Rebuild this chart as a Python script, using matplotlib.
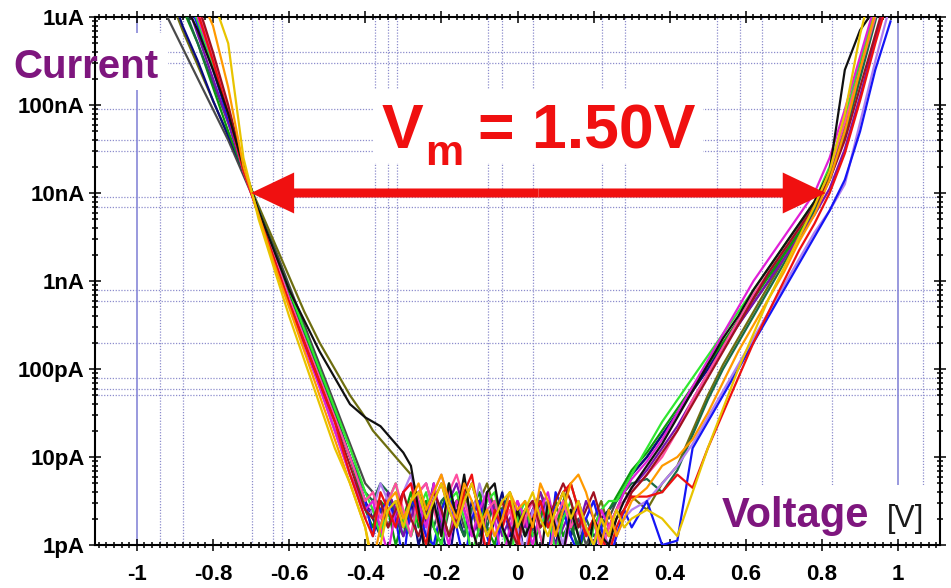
import numpy as np
import matplotlib
matplotlib.use('Agg')
import matplotlib.pyplot as plt
from matplotlib.patches import Rectangle
from matplotlib.ticker import FixedLocator, MultipleLocator, LogLocator, NullFormatter

plt.rcParams['font.family'] = ['Liberation Sans', 'DejaVu Sans']

# ---------------- data ----------------
voltage = [-0.96, -0.92, -0.88, -0.84, -0.80, -0.76, -0.72, -0.68, -0.64, -0.60,
           -0.56, -0.52, -0.48, -0.44, -0.40,
           -0.38, -0.36, -0.34, -0.32, -0.30, -0.28, -0.26, -0.24, -0.22, -0.20,
           -0.18, -0.16, -0.14, -0.12, -0.10, -0.08, -0.06, -0.04, -0.02, 0.00,
           0.02, 0.04, 0.06, 0.08, 0.10, 0.12, 0.14, 0.16, 0.18, 0.20,
           0.22, 0.24, 0.26, 0.28, 0.30,
           0.34, 0.38, 0.42, 0.46, 0.50, 0.54, 0.58, 0.62, 0.66, 0.70,
           0.74, 0.78, 0.82, 0.86, 0.90, 0.94, 0.98]

# log10(current / A) for each sweep
log_i_black = [-4.8, -5.3, -5.8, -6.15, -6.6, -7.1, -7.7, -8.2, -8.65, -9.1, -9.45, -9.8, -10.1, -10.4, -10.55,
               -10.6, -10.65, -10.75, -10.85, -10.95, -11.1, -11.6, -12.2, -11.5, -11.9,
               -11.3, -11.7, -11.2, -11.8, -12.1, -11.4, -11.3, -11.8, -12.0, -11.6,
               -11.9, -11.7, -12.2, -11.5, -11.8, -12.1, -11.6, -11.9, -12.2, -11.7,
               -11.9, -12.0, -11.7, -11.5, -11.35,
               -11.1, -10.85, -10.55, -10.25, -9.95, -9.65, -9.4, -9.1, -8.85, -8.6, -8.35, -8.1, -7.75, -6.6, -6.15, -5.9, -5.5]
log_i_blue = [-4.6, -5.1, -5.6, -6.1, -6.6, -7.15, -7.7, -8.2, -8.7, -9.2, -9.65, -10.1, -10.55, -11.0, -11.5,
              -11.9, -11.6, -11.5, -11.7, -12.2, -11.5, -11.6, -11.9, -12.0, -11.6,
              -11.4, -11.8, -12.2, -11.7, -11.5, -11.9, -12.2, -11.6, -11.8, -12.0,
              -11.6, -11.5, -11.9, -12.2, -11.4, -11.6, -11.9, -12.1, -11.7, -11.5,
              -11.8, -12.2, -11.9, -11.6, -11.8,
              -11.5, -12.0, -11.95, -10.9, -10.6, -10.3, -10.0, -9.7, -9.4, -9.1, -8.8, -8.5, -8.2, -7.85, -7.3, -6.6, -6.05]
log_i_navy = [-5.2, -5.6, -6.1, -6.5, -6.95, -7.35, -7.75, -8.2, -8.65, -9.1, -9.55, -10.0, -10.5, -11.0, -11.5,
              -11.7, -11.9, -11.4, -11.6, -11.8, -11.5, -12.0, -11.7, -11.3, -11.8,
              -12.2, -11.6, -11.9, -11.5, -11.8, -12.1, -11.7, -11.4, -11.9, -11.6,
              -12.2, -11.8, -11.5, -11.7, -12.0, -11.6, -11.9, -11.5, -11.8, -12.1,
              -11.7, -11.6, -11.5, -11.35, -11.2,
              -11.0, -10.75, -10.5, -10.25, -10.0, -9.72, -9.45, -9.18, -8.92, -8.66, -8.4, -8.12, -7.75, -7.2, -6.55, -5.95, -5.35]
log_i_green = [-4.9, -5.4, -5.9, -6.3, -6.8, -7.3, -7.75, -8.2, -8.7, -9.15, -9.6, -10.05, -10.5, -11.0, -11.6,
               -11.8, -11.5, -11.6, -12.0, -11.7, -11.4, -11.8, -11.5, -12.2, -11.6,
               -11.3, -11.7, -11.9, -11.6, -11.4, -11.8, -12.0, -11.6, -11.5, -11.9,
               -11.7, -12.2, -11.6, -11.8, -11.5, -11.9, -11.7, -12.1, -11.8, -12.0,
               -11.8, -11.6, -11.45, -11.3, -11.15,
               -10.95, -10.7, -10.45, -10.2, -9.95, -9.7, -9.45, -9.2, -8.95, -8.7, -8.45, -8.2, -7.85, -7.3, -6.6, -5.9, -5.3]
log_i_lime = [-4.6, -5.1, -5.6, -6.05, -6.55, -7.1, -7.7, -8.2, -8.65, -9.1, -9.55, -10.0, -10.45, -10.9, -11.4,
              -11.6, -11.9, -11.5, -11.3, -11.7, -11.9, -11.6, -11.4, -11.8, -12.0,
              -11.5, -11.4, -11.7, -12.1, -11.8, -11.5, -11.4, -11.8, -12.2, -11.7,
              -11.5, -11.9, -11.8, -11.6, -12.1, -11.7, -11.5, -11.9, -12.2, -11.8,
              -11.6, -11.5, -11.5, -11.35, -11.2,
              -10.9, -10.6, -10.35, -10.1, -9.85, -9.6, -9.35, -9.1, -8.85, -8.6, -8.35, -8.1, -7.7, -7.15, -6.5, -5.9, -5.3]
log_i_red = [-4.4, -4.9, -5.4, -5.95, -6.5, -7.1, -7.75, -8.25, -8.75, -9.25, -9.7, -10.15, -10.6, -11.2, -11.7,
             -11.9, -11.4, -11.6, -11.8, -11.4, -11.3, -11.7, -12.0, -11.5, -11.3,
             -11.6, -11.8, -11.4, -11.2, -11.7, -12.1, -11.6, -11.8, -11.5, -11.9,
             -12.2, -11.7, -11.5, -11.8, -11.6, -11.4, -11.3, -11.6, -11.9, -11.7,
             -11.9, -12.1, -11.8, -11.6, -11.45,
             -11.45, -11.4, -11.2, -11.35, -10.9, -10.5, -10.1, -9.7, -9.35, -9.0, -8.65, -8.35, -8.0, -7.55, -6.95, -6.3, -5.7]
log_i_magenta = [-4.5, -5.0, -5.5, -6.0, -6.5, -7.1, -7.75, -8.25, -8.75, -9.25, -9.75, -10.2, -10.7, -11.2, -11.6,
                 -11.5, -11.8, -12.1, -11.6, -11.4, -11.3, -11.5, -11.8, -11.3, -11.7,
                 -12.0, -11.5, -11.6, -11.9, -11.6, -11.4, -11.7, -12.2, -11.8, -11.5,
                 -11.7, -12.0, -11.6, -11.4, -11.8, -12.1, -11.7, -11.5, -11.8, -12.0,
                 -11.6, -11.8, -11.6, -11.4, -11.25,
                 -11.05, -10.8, -10.5, -10.2, -9.9, -9.6, -9.3, -9.0, -8.75, -8.5, -8.25, -8.0, -7.6, -7.05, -6.45, -5.85, -5.3]
log_i_pink = [-4.4, -4.9, -5.4, -5.9, -6.45, -7.05, -7.7, -8.25, -8.7, -9.2, -9.65, -10.1, -10.55, -11.0, -11.5,
              -11.4, -11.7, -11.5, -11.3, -11.6, -11.9, -11.4, -11.3, -11.6, -11.9,
              -11.4, -11.2, -11.5, -11.8, -12.1, -11.6, -11.5, -11.8, -11.6, -12.0,
              -11.7, -11.5, -11.9, -12.2, -11.7, -11.5, -11.8, -11.6, -11.9, -11.7,
              -12.1, -11.8, -11.6, -11.5, -11.4,
              -11.2, -11.0, -10.7, -10.35, -10.05, -9.75, -9.45, -9.15, -8.9, -8.65, -8.4, -8.15, -7.75, -7.2, -6.6, -6.0, -5.4]
log_i_orange = [-4.2, -4.7, -5.2, -5.7, -6.1, -6.8, -7.7, -8.25, -8.8, -9.3, -9.8, -10.3, -10.8, -11.3, -11.8,
                -12.2, -11.8, -11.5, -11.4, -11.7, -11.5, -11.3, -11.6, -11.4, -11.2,
                -11.5, -11.7, -11.3, -11.5, -11.8, -11.6, -11.9, -11.7, -11.4, -11.6,
                -11.5, -11.8, -11.3, -11.5, -11.9, -11.6, -11.3, -11.2, -11.4, -11.7,
                -12.0, -11.6, -11.9, -11.7, -11.5,
                -11.35, -11.1, -11.0, -10.8, -10.5, -10.15, -9.8, -9.5, -9.2, -8.9, -8.55, -8.25, -7.85, -7.3, -6.6, -5.95, -5.3]
log_i_gold = [-3.6, -4.2, -4.8, -5.3, -5.8, -6.3, -7.6, -8.3, -8.85, -9.4, -9.9, -10.4, -10.9, -11.3, -11.8,
              -12.3, -12.0, -11.6, -11.5, -11.8, -11.5, -11.4, -11.7, -11.5, -11.3,
              -11.6, -11.8, -11.5, -11.3, -11.6, -11.9, -11.7, -11.5, -11.4, -11.8,
              -11.6, -11.4, -11.7, -11.9, -11.6, -11.4, -11.7, -11.5, -11.8, -12.0,
              -11.7, -11.9, -11.6, -11.8, -11.7,
              -11.6, -11.7, -11.9, -11.4, -10.9, -10.45, -10.0, -9.6, -9.2, -8.85, -8.5, -8.15, -7.75, -7.1, -6.2, -5.5, -4.8]
log_i_violet = [-4.5, -5.0, -5.5, -6.0, -6.55, -7.1, -7.75, -8.2, -8.7, -9.2, -9.7, -10.2, -10.7, -11.2, -11.7,
                -11.6, -11.3, -11.5, -11.8, -11.4, -11.2, -11.6, -11.9, -11.4, -11.2,
                -11.5, -11.8, -11.5, -11.7, -11.3, -11.6, -11.9, -11.7, -11.5, -11.8,
                -12.1, -11.6, -11.8, -11.5, -11.7, -12.0, -11.6, -11.9, -11.7, -11.5,
                -11.8, -12.0, -11.9, -11.7, -11.6,
                -11.5, -11.3, -11.1, -10.85, -10.55, -10.25, -9.95, -9.65, -9.35, -9.05, -8.75, -8.45, -8.2, -7.9, -7.2, -6.5, -5.85]
log_i_olive = [-5.3, -5.7, -6.15, -6.55, -6.95, -7.35, -7.75, -8.15, -8.55, -8.95, -9.35, -9.7, -10.0, -10.3, -10.55,
               -10.7, -10.8, -10.9, -11.0, -11.1, -11.2, -11.5, -11.8, -11.4, -11.6,
               -11.9, -11.5, -11.4, -11.7, -11.5, -11.3, -11.6, -11.8, -11.5, -11.6,
               -11.9, -11.7, -11.4, -11.6, -11.8, -11.5, -11.3, -11.6, -11.9, -11.7,
               -11.5, -11.8, -11.6, -11.4, -11.45,
               -11.6, -11.3, -11.1, -10.7, -10.3, -9.95, -9.65, -9.35, -9.05, -8.75, -8.45, -8.15, -7.8, -7.3, -6.65, -6.0, -5.4]
log_i_darkgreen = [-4.9, -5.4, -5.85, -6.3, -6.75, -7.2, -7.7, -8.2, -8.7, -9.2, -9.65, -10.1, -10.55, -11.0, -11.4,
                   -11.5, -11.3, -11.4, -11.7, -11.9, -11.5, -11.4, -11.6, -11.8, -11.5,
                   -11.4, -11.7, -11.9, -11.6, -11.5, -11.8, -11.5, -11.6, -11.4, -11.7,
                   -11.9, -11.6, -11.5, -11.8, -11.6, -11.4, -11.8, -12.0, -11.7, -11.9,
                   -11.8, -11.6, -11.5, -11.4, -11.3,
                   -11.25, -11.4, -11.15, -10.75, -10.35, -10.0, -9.7, -9.4, -9.1, -8.8, -8.5, -8.2, -7.85, -7.35, -6.7, -6.05, -5.4]
log_i_darkgray = [-5.6, -6.0, -6.35, -6.7, -7.05, -7.4, -7.8, -8.2, -8.6, -9.05, -9.5, -9.95, -10.4, -10.85, -11.3,
                  -11.4, -11.6, -11.8, -11.5, -11.7, -11.9, -11.6, -11.5, -11.8, -12.0,
                  -11.6, -11.5, -11.8, -11.6, -11.9, -11.7, -11.5, -11.8, -12.1, -11.7,
                  -11.6, -11.9, -11.7, -11.5, -11.8, -11.6, -11.9, -11.7, -12.0, -11.8,
                  -11.6, -11.7, -11.5, -11.35, -11.2,
                  -11.0, -10.75, -10.5, -10.25, -10.0, -9.75, -9.5, -9.25, -9.0, -8.7, -8.4, -8.1, -7.75, -7.2, -6.55, -5.9, -5.3]
log_i_darkred = [-4.3, -4.8, -5.3, -5.85, -6.4, -7.0, -7.7, -8.25, -8.75, -9.25, -9.7, -10.15, -10.6, -11.1, -11.6,
                 -11.7, -11.5, -11.8, -11.6, -11.4, -11.7, -11.9, -11.6, -11.4, -11.6,
                 -11.9, -11.7, -11.5, -11.3, -11.6, -11.9, -11.7, -11.5, -11.8, -12.0,
                 -11.6, -11.5, -11.8, -11.7, -11.5, -11.3, -11.5, -11.8, -11.6, -11.4,
                 -11.7, -11.9, -11.7, -11.6, -11.4,
                 -11.2, -10.95, -10.7, -10.4, -10.1, -9.8, -9.5, -9.2, -8.9, -8.65, -8.4, -8.15, -7.85, -7.4, -6.8, -6.2, -5.6]
log_i_purple = [-4.7, -5.2, -5.7, -6.2, -6.7, -7.2, -7.75, -8.2, -8.7, -9.2, -9.7, -10.2, -10.7, -11.2, -11.6,
                -11.6, -11.8, -11.4, -11.6, -11.9, -11.7, -11.4, -11.3, -11.6, -11.8,
                -11.5, -11.3, -11.6, -11.9, -11.7, -11.4, -11.6, -11.9, -11.7, -11.5,
                -11.8, -11.6, -11.4, -11.7, -12.0, -11.8, -11.6, -11.8, -11.5, -11.7,
                -12.0, -11.8, -11.6, -11.5, -11.35,
                -11.15, -10.9, -10.65, -10.35, -10.05, -9.75, -9.5, -9.25, -9.0, -8.75, -8.5, -8.25, -7.95, -7.5, -6.9, -6.25, -5.65]

sweeps = [
    (log_i_darkgray, '#4A4A4A'), (log_i_olive, '#6E6E10'), (log_i_navy, '#0A0A80'),
    (log_i_green, '#0A9A0A'), (log_i_darkgreen, '#1A6B45'), (log_i_purple, '#7A10B0'),
    (log_i_violet, '#B080F0'), (log_i_blue, '#1515F5'), (log_i_lime, '#30E830'),
    (log_i_magenta, '#E020D8'), (log_i_pink, '#FF4FA0'), (log_i_darkred, '#A01020'),
    (log_i_red, '#EE1010'), (log_i_black, '#101010'), (log_i_orange, '#FF9A00'),
    (log_i_gold, '#E8C400'),
]

x_ticks = [-1.0, -0.8, -0.6, -0.4, -0.2, 0.0, 0.2, 0.4, 0.6, 0.8, 1.0]
x_tick_labels = ['-1', '-0.8', '-0.6', '-0.4', '-0.2', '0', '0.2', '0.4', '0.6', '0.8', '1']
y_ticks = [1e-12, 1e-11, 1e-10, 1e-9, 1e-8, 1e-7, 1e-6]
y_tick_labels = ['1pA', '10pA', '100pA', '1nA', '10nA', '100nA', '1uA']

arrow_v = [-0.70, 0.81]
arrow_i = 1e-8
vm_label = '= 1.50V'

# ---------------- figure ----------------
W, H = 951, 588
fig = plt.figure(figsize=(W / 100, H / 100), dpi=100)
fig.patch.set_facecolor('white')
ax = fig.add_axes([95 / W, 1 - 545 / H, (940 - 95) / W, (545 - 17) / H])
ax.set_yscale('log')
ax.set_xlim(-1.11, 1.11)
ax.set_ylim(1e-12, 1e-6)

# irregular dotted grid of the original instrument plot
grid_x = [-0.940, -0.879, -0.698, -0.643, -0.619, -0.375, -0.340, -0.317, -0.078, -0.041,
          0.041, 0.222, 0.283, 0.525, 0.585, 0.643, 0.827, 1.066]
grid_y = [4e-7, 3e-7, 9e-8, 4e-8, 3e-8, 9e-9, 7e-9, 8e-10, 6e-10, 2e-10, 8e-11, 6e-11, 5e-11]
gcol = '#8C8CCC'
for gx in grid_x:
    ax.axvline(gx, color=gcol, lw=0.9, ls=(0, (1.0, 1.3)), zorder=0.5)
for gy in grid_y:
    ax.axhline(gy, color=gcol, lw=0.9, ls=(0, (1.0, 1.3)), zorder=0.5)
for gx in [-1.0, 1.0]:
    ax.axvline(gx, color='#8888D8', lw=1.2, zorder=0.6)


def px_box(x0, y0, x1, y1):
    return Rectangle((x0 / W, 1 - y1 / H), (x1 - x0) / W, (y1 - y0) / H,
                     transform=fig.transFigure, facecolor='white', edgecolor='none', zorder=1)


for b in [(0, 33, 168, 90), (373, 90, 703, 163), (715, 485, 938, 543)]:
    ax.add_patch(px_box(*b))

for logs, col in sweeps:
    ax.plot(voltage, 10 ** np.array(logs), color=col, lw=1.6, zorder=3,
            solid_joinstyle='round')

# double arrow
mid_v = 0.5 * (arrow_v[0] + arrow_v[1])
for tip in arrow_v:
    ax.annotate('', xy=(tip, arrow_i), xytext=(mid_v, arrow_i),
                arrowprops=dict(arrowstyle='simple,head_length=3.1,head_width=2.95,tail_width=0.65',
                                color='#F01010', lw=0, shrinkA=0, shrinkB=0, mutation_scale=10),
                zorder=4)

# ticks
ax.xaxis.set_major_locator(FixedLocator(x_ticks))
ax.set_xticklabels(x_tick_labels)
ax.xaxis.set_minor_locator(MultipleLocator(0.02))
ax.yaxis.set_major_locator(FixedLocator(y_ticks))
ax.set_yticklabels(y_tick_labels)
ax.yaxis.set_minor_locator(LogLocator(base=10, subs=np.arange(2, 10) * 1.0, numticks=30))
ax.yaxis.set_minor_formatter(NullFormatter())
ax.tick_params(which='both', direction='inout', top=True, right=True, width=1.1, color='black')
ax.tick_params(which='major', length=9, labelsize=16)
ax.tick_params(which='minor', length=5)
ax.tick_params(axis='x', pad=9)
ax.tick_params(axis='y', pad=3)
for lbl in ax.get_xticklabels() + ax.get_yticklabels():
    lbl.set_fontweight('bold')
for sp in ax.spines.values():
    sp.set_linewidth(1.5)
    sp.set_color('black')

# texts
purple = '#7E167E'
red = '#F01010'


def ftext(x, y, s, **kw):
    fig.text(x / W, 1 - y / H, s, ha='left', va='baseline', **kw)


ftext(13, 78, 'Current', fontsize=29, fontweight='bold', color=purple)
ftext(722, 527, 'Voltage', fontsize=30, fontweight='bold', color=purple)
ftext(887, 527, '[V]', fontsize=22, color='#1A1A1A')
ftext(382, 148, 'V', fontsize=45, fontweight='bold', color=red)
ftext(425, 165, 'm', fontsize=31, fontweight='bold', color=red)
ftext(478, 148, vm_label, fontsize=45, fontweight='bold', color=red)

fig.savefig('out.png', dpi=100, facecolor='white')
